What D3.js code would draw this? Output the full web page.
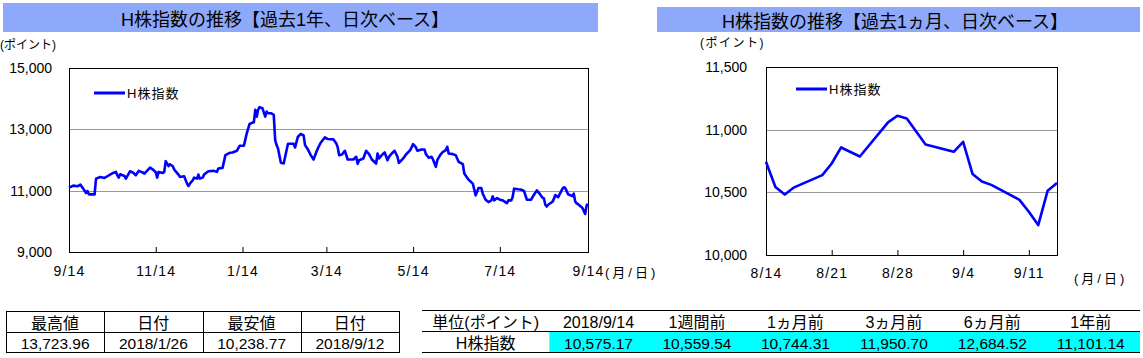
<!DOCTYPE html>
<html><head><meta charset="utf-8">
<script src="https://cdn.jsdelivr.net/npm/d3@7"></script>
<style>
body{margin:0;background:#fff;}
svg text{font-family:"Liberation Sans","Noto Sans CJK JP",sans-serif;fill:#000;}
</style></head><body>
<svg id="c" width="1143" height="358"></svg>
<script>
// ---------- data ----------
const yearDates = ["2017-09-14","2017-09-17","2017-09-20","2017-09-22","2017-09-24","2017-09-26","2017-09-27","2017-09-28","2017-10-02","2017-10-03","2017-10-06","2017-10-09","2017-10-11","2017-10-15","2017-10-17","2017-10-18","2017-10-19","2017-10-20","2017-10-23","2017-10-24","2017-10-27","2017-10-29","2017-10-31","2017-11-02","2017-11-05","2017-11-06","2017-11-10","2017-11-12","2017-11-14","2017-11-15","2017-11-16","2017-11-19","2017-11-20","2017-11-21","2017-11-23","2017-11-24","2017-11-26","2017-11-27","2017-11-30","2017-12-01","2017-12-04","2017-12-06","2017-12-07","2017-12-08","2017-12-10","2017-12-11","2017-12-13","2017-12-14","2017-12-15","2017-12-17","2017-12-18","2017-12-21","2017-12-25","2017-12-27","2017-12-28","2017-12-31","2018-01-02","2018-01-05","2018-01-07","2018-01-10","2018-01-12","2018-01-15","2018-01-17","2018-01-19","2018-01-21","2018-01-22","2018-01-23","2018-01-24","2018-01-25","2018-01-26","2018-01-28","2018-01-30","2018-01-31","2018-02-01","2018-02-03","2018-02-05","2018-02-06","2018-02-07","2018-02-08","2018-02-10","2018-02-12","2018-02-15","2018-02-19","2018-02-20","2018-02-22","2018-02-24","2018-02-26","2018-02-27","2018-03-01","2018-03-03","2018-03-05","2018-03-07","2018-03-08","2018-03-10","2018-03-13","2018-03-15","2018-03-19","2018-03-21","2018-03-22","2018-03-23","2018-03-25","2018-03-27","2018-03-29","2018-04-01","2018-04-02","2018-04-04","2018-04-05","2018-04-06","2018-04-09","2018-04-11","2018-04-13","2018-04-15","2018-04-18","2018-04-19","2018-04-20","2018-04-22","2018-04-24","2018-04-26","2018-04-27","2018-04-29","2018-05-01","2018-05-03","2018-05-04","2018-05-07","2018-05-09","2018-05-12","2018-05-14","2018-05-16","2018-05-17","2018-05-20","2018-05-22","2018-05-23","2018-05-25","2018-05-27","2018-05-28","2018-05-30","2018-05-31","2018-06-02","2018-06-04","2018-06-06","2018-06-07","2018-06-08","2018-06-11","2018-06-13","2018-06-15","2018-06-18","2018-06-19","2018-06-22","2018-06-23","2018-06-25","2018-06-27","2018-06-29","2018-07-01","2018-07-02","2018-07-04","2018-07-06","2018-07-08","2018-07-09","2018-07-10","2018-07-12","2018-07-14","2018-07-16","2018-07-19","2018-07-20","2018-07-22","2018-07-23","2018-07-24","2018-07-27","2018-07-29","2018-07-31","2018-08-02","2018-08-05","2018-08-06","2018-08-09","2018-08-11","2018-08-13"];
const yearValues = [11101,11164,11142,11197,11066,10923,10989,10880,10880,11393,11448,11415,11470,11579,11612,11503,11426,11535,11481,11393,11634,11590,11503,11645,11590,11557,11754,11688,11601,11426,11612,11579,11612,11962,11798,11863,11798,11688,11524,11448,11470,11229,11153,11229,11339,11426,11393,11524,11393,11426,11524,11634,11645,11612,11721,11743,12158,12235,12246,12300,12464,12464,12869,13175,13219,13230,13634,13415,13634,13724,13690,13415,13580,13525,13525,13470,12650,12486,12377,11907,11885,12530,12530,12410,12760,12847,12803,12486,12344,12158,12016,12268,12377,12563,12738,12683,12672,12541,12410,12158,12180,12301,12016,12016,12016,12104,11874,11994,12049,12301,12191,12016,11885,12213,12049,12158,12246,11994,12104,12213,12301,12104,11907,12049,12180,12322,12519,12410,12301,12344,12344,12191,12071,12104,12016,11776,11994,12158,12268,12322,12432,12213,12191,12158,11940,11863,11557,11360,11317,11229,10847,11087,11087,10901,10705,10628,10683,10814,10683,10759,10705,10683,10596,10683,10683,10792,11065,11044,11033,10989,10705,10705,10792,11011,10902,10770];
const monthDates = ["2018-08-14","2018-08-15","2018-08-16","2018-08-17","2018-08-20","2018-08-21","2018-08-22","2018-08-23","2018-08-24","2018-08-27","2018-08-28","2018-08-29","2018-08-30","2018-08-31","2018-09-03","2018-09-04","2018-09-05","2018-09-06","2018-09-07","2018-09-10","2018-09-11","2018-09-12","2018-09-13","2018-09-14"];
const monthValues = [10744.31,10543,10482,10540,10637,10730,10858,10822,10786,11058,11111,11090,10986,10882,10823,10903,10647,10586,10559.54,10440,10345,10238.77,10512,10575.17];

const yearTicks = ["2017-09-14","2017-11-14","2018-01-14","2018-03-14","2018-05-14","2018-07-14","2018-09-14"];
const monthTicks = ["2018-08-14","2018-08-21","2018-08-28","2018-09-04","2018-09-11"];
const yearYTicks = [9000,11000,13000,15000];
const monthYTicks = [10000,10500,11000,11500];
const seriesName = "H株指数";

const statHeaders = ["最高値","日付","最安値","日付"];
const statValues = ["13,723.96","2018/1/26","10,238.77","2018/9/12"];
const perfHeaders = ["単位(ポイント)","2018/9/14","1週間前","1ヵ月前","3ヵ月前","6ヵ月前","1年前"];
const perfValues = [10575.17,10559.54,10744.31,11950.70,12684.52,11101.14];

// ---------- drawing ----------
const parse = d3.timeParse("%Y-%m-%d");
const svg = d3.select("#c");
const fmtDate = d3.timeFormat("%-m/%-d");

function titleBar(x0, x1, y0, y1, tx, text){
  svg.append("rect").attr("x",x0).attr("y",y0).attr("width",x1-x0).attr("height",y1-y0).attr("fill","#8fa9fa");
  svg.append("text").attr("x",tx).attr("y",(y0+y1)/2+2).attr("text-anchor","middle")
    .attr("dominant-baseline","central").style("font-size","18px").attr("fill","#111").text(text);
}

function chart(o){
  const x = d3.scaleTime().domain(o.xDomain.map(parse)).range([o.x0,o.x1]);
  const y = d3.scaleLinear().domain(o.yDomain).range([o.y1,o.y0]);
  const g = svg.append("g");
  g.selectAll("line.grid").data(o.yTicks.filter(v=>v>o.yDomain[0]&&v<o.yDomain[1])).enter()
    .append("line").attr("x1",o.x0).attr("x2",o.x1)
    .attr("y1",d=>Math.round(y(d))+0.5).attr("y2",d=>Math.round(y(d))+0.5)
    .attr("stroke","#999").attr("stroke-width",1);
  const xa = g.append("g").attr("transform",`translate(0,${o.y1})`)
    .call(d3.axisBottom(x).tickValues(o.xTicks.map(parse)).tickFormat(fmtDate).tickSizeInner(-5).tickSizeOuter(0).tickPadding(o.xPad));
  xa.select(".domain").remove();
  xa.selectAll("line").attr("stroke","#000");
  xa.selectAll("text").style("font-size","14px").style("letter-spacing","1.2px").attr("fill","#000");
  const ya = g.append("g").attr("transform",`translate(${o.x0},0)`)
    .call(d3.axisLeft(y).tickValues(o.yTicks).tickFormat(d3.format(",")).tickSize(0).tickPadding(o.yPad));
  ya.select(".domain").remove();
  ya.selectAll("text").style("font-size","14px").attr("fill","#000");
  g.append("rect").attr("x",o.x0+0.5).attr("y",o.y0+0.5).attr("width",o.x1-o.x0).attr("height",o.y1-o.y0)
    .attr("fill","none").attr("stroke","#000").attr("stroke-width",1);
  const line = d3.line().x(d=>x(d[0])).y(d=>y(d[1]));
  const pts = o.dates.map((d,i)=>[parse(d),o.values[i]]);
  g.append("path").datum(pts).attr("d",line).attr("fill","none").attr("stroke","#0000ff")
    .attr("stroke-width",2.6).attr("stroke-linejoin","round");
  g.append("line").attr("x1",o.lx).attr("x2",o.lx+31).attr("y1",o.ly).attr("y2",o.ly)
    .attr("stroke","#0000ff").attr("stroke-width",3);
  g.append("text").attr("x",o.lx+33).attr("y",o.ly).attr("dominant-baseline","central")
    .style("font-size","13px").style("letter-spacing","1px").text(seriesName);
  g.append("text").attr("x",o.ux).attr("y",o.uy).attr("dominant-baseline","central")
    .style("font-size","12px").style("letter-spacing",o.uls).text("(ポイント)");
  g.append("text").attr("x",o.mx).attr("y",o.my).attr("dominant-baseline","central")
    .style("font-size","13px").style("letter-spacing","3px").text("(月/日)");
}

titleBar(3, 598, 3, 32, 285, "H株指数の推移【過去1年、日次ベース】");
titleBar(657, 1140, 7, 32, 895, "H株指数の推移【過去1ヵ月、日次ベース】");

chart({x0:69,x1:588,y0:68,y1:252,
  xDomain:["2017-09-14","2018-09-14"], yDomain:[9000,15000],
  xTicks:yearTicks, yTicks:yearYTicks, xPad:14, yPad:17,
  dates:yearDates.concat(monthDates), values:yearValues.concat(monthValues),
  lx:94, ly:93, ux:0, uy:45, uls:"0px", mx:605, my:272});

chart({x0:766,x1:1057,y0:67,y1:255,
  xDomain:["2018-08-14","2018-09-14"], yDomain:[10000,11500],
  xTicks:monthTicks, yTicks:monthYTicks, xPad:13, yPad:19,
  dates:monthDates, values:monthValues,
  lx:796, ly:89, ux:700, uy:43, uls:"1.5px", mx:1074, my:278});

// ---------- left stats table ----------
(function(){
  const x0=6, w=98.25, rows=[311,331.5,352];
  const t = svg.append("g");
  const cols = d3.range(statHeaders.length+1).map(i=>x0+i*w);
  t.selectAll("line.h").data(rows).enter().append("line")
    .attr("x1",x0).attr("x2",cols[cols.length-1]).attr("y1",d=>Math.round(d)+0.5).attr("y2",d=>Math.round(d)+0.5)
    .attr("stroke","#000");
  t.selectAll("line.v").data(cols).enter().append("line")
    .attr("x1",d=>Math.round(d)+0.5).attr("x2",d=>Math.round(d)+0.5).attr("y1",rows[0]).attr("y2",rows[2]+1)
    .attr("stroke","#000");
  t.selectAll("text.hd").data(statHeaders).enter().append("text")
    .attr("x",(d,i)=>x0+(i+0.5)*w).attr("y",(rows[0]+rows[1])/2+2).attr("text-anchor","middle")
    .attr("dominant-baseline","central").style("font-size","16px").text(d=>d);
  t.selectAll("text.vl").data(statValues).enter().append("text")
    .attr("x",(d,i)=>x0+(i+0.5)*w).attr("y",(rows[1]+rows[2])/2+2).attr("text-anchor","middle")
    .attr("dominant-baseline","central").style("font-size","15.5px").text(d=>d);
})();

// ---------- right performance table ----------
(function(){
  const x0=422, c1=549.3, x1=1140, rows=[310,331,352];
  const w=(x1-c1)/perfValues.length;
  const t = svg.append("g");
  t.append("rect").attr("x",c1).attr("y",rows[1]+1).attr("width",x1-c1).attr("height",rows[2]-rows[1]-1).attr("fill","#00ffff");
  t.selectAll("line.h").data(rows).enter().append("line")
    .attr("x1",x0).attr("x2",x1).attr("y1",d=>d+0.5).attr("y2",d=>d+0.5).attr("stroke","#000");
  const centers = [(x0+c1)/2].concat(perfValues.map((v,i)=>c1+(i+0.5)*w));
  t.selectAll("text.hd").data(perfHeaders).enter().append("text")
    .attr("x",(d,i)=>centers[i]).attr("y",(rows[0]+rows[1])/2+2).attr("text-anchor","middle")
    .attr("dominant-baseline","central").style("font-size","16px").text(d=>d);
  t.append("text").attr("x",centers[0]).attr("y",(rows[1]+rows[2])/2+2).attr("text-anchor","middle")
    .attr("dominant-baseline","central").style("font-size","16px").text(seriesName);
  t.selectAll("text.vl").data(perfValues).enter().append("text")
    .attr("x",(d,i)=>centers[i+1]).attr("y",(rows[1]+rows[2])/2+2).attr("text-anchor","middle")
    .attr("dominant-baseline","central").style("font-size","15.5px").text(d=>d3.format(",.2f")(d));
})();
</script></body></html>
